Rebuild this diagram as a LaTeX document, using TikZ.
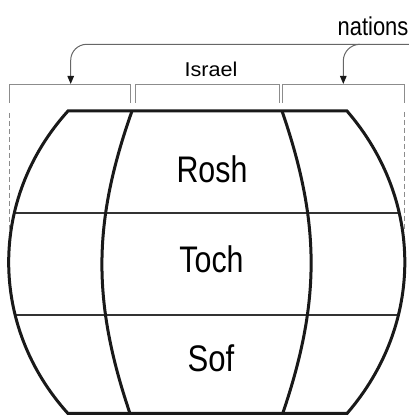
\documentclass[tikz,border=0pt]{standalone}
\usepackage{fontspec}
\setmainfont{Liberation Sans}
\usetikzlibrary{arrows.meta}
\begin{document}
\begin{tikzpicture}[x=1pt,y=1pt,
  globeline/.style={line width=3pt,draw=black!90,line join=miter},
  divline/.style={line width=1.4pt,draw=black!80},
  bracketline/.style={line width=0.9pt,draw=black!45},
  dashline/.style={line width=0.8pt,draw=black!45,dash pattern=on 5pt off 3pt},
  arrowline/.style={line width=1pt,draw=black!60,-{Triangle[length=8pt,width=6.5pt,color=black!90,fill=black!90]}},
  bigtext/.style={anchor=base,inner sep=0pt,text=black,font=\fontsize{37}{37}\selectfont},
  midtext/.style={anchor=base,inner sep=0pt,text=black,font=\fontsize{20}{20}\selectfont},
  toptext/.style={anchor=base west,inner sep=0pt,text=black,font=\fontsize{25.8}{25.8}\selectfont}]
\useasboundingbox (0,0) rectangle (409,416);

% globe corners
\coordinate (otl) at (68,305);
\coordinate (otr) at (347,305);
\coordinate (obl) at (68,2.5);
\coordinate (obr) at (347,2.5);
\coordinate (itl) at (132,305);
\coordinate (ibl) at (130,2.5);
\coordinate (itr) at (282,305);
\coordinate (ibr) at (282.7,2.5);

% horizontal dividers clipped to globe
\begin{scope}
  \clip (otl) -- (otr) to[bend left=40.8] (obr) -- (obl) to[bend left=42.1] (otl) -- cycle;
  \draw[divline] (0,203) -- (409,203);
  \draw[divline] (0,101) -- (409,101);
\end{scope}

% globe outline
\draw[globeline] (obl) to[bend left=42.1] (otl) -- (otr) to[bend left=40.8] (obr) -- cycle;
\draw[globeline] (itl) to[bend right=19.1] (ibl);
\draw[globeline] (itr) to[bend left=18.9] (ibr);

% brackets
\draw[bracketline] (9.5,313) -- (9.5,331.5) -- (130.7,331.5) -- (130.7,313);
\draw[bracketline] (135,313) -- (135,331.5) -- (279,331.5) -- (279,313);
\draw[bracketline] (282.7,313) -- (282.7,331.5) -- (404,331.5) -- (404,313);

% dashed guides
\draw[dashline] (9.5,303) -- (9.5,183);
\draw[dashline] (404,304) -- (404,184);

% arrows from "nations"
\coordinate (nstart) at (409,371.7);
\coordinate (ltip) at (70.7,332);
\coordinate (branch) at (360,371.7);
\coordinate (rbend) at (343.3,355);
\coordinate (rtip) at (343.3,332);
\draw[arrowline,rounded corners=16] (nstart) -| (ltip);
\draw[arrowline] (branch) to[out=180,in=90] (rbend) -- (rtip);

% texts
\node[bigtext] (rosh) at (212,233.5) {\scalebox{0.82}[1]{Rosh}};
\node[bigtext] (toch) at (211.5,143) {\scalebox{0.82}[1]{Toch}};
\node[bigtext] (sof) at (211,45) {\scalebox{0.84}[1]{Sof}};
\node[midtext] (israel) at (211,339.3) {\scalebox{1.08}[1]{Israel}};
\node[toptext] (nations) at (337.5,380.3) {\scalebox{0.85}[1]{nations}};
\end{tikzpicture}
\end{document}
